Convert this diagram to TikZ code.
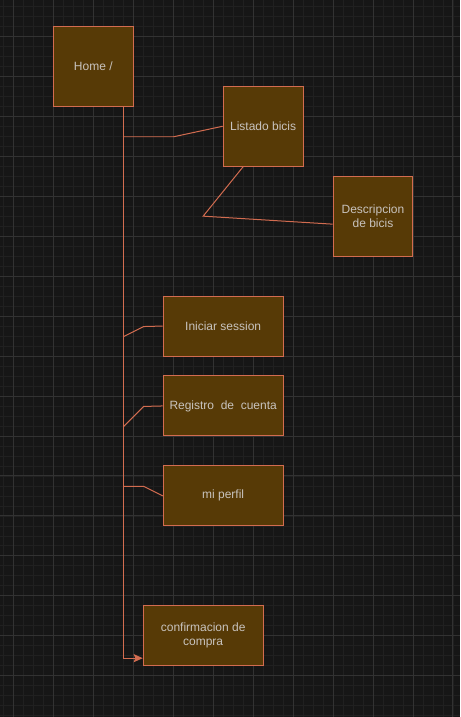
\documentclass[tikz,border=0pt]{standalone}
\usepackage{fontspec}
\setmainfont{Liberation Sans}
\usetikzlibrary{arrows.meta}
\usetikzlibrary{calc}
\definecolor{fondo}{RGB}{22,22,22}
\definecolor{rejilla}{RGB}{32,32,32}
\definecolor{rejillafuerte}{RGB}{50,50,50}
\definecolor{caja}{RGB}{87,58,6}
\definecolor{borde}{RGB}{210,108,80}
\definecolor{texto}{RGB}{200,195,190}

\begin{document}
\begin{tikzpicture}[x=1pt, y=-1pt,
    pagina/.style={draw=borde, fill=caja, line width=1pt, text=texto,
        font=\fontsize{12}{14}\selectfont, align=center, inner sep=0pt},
    cuadro/.style={pagina, minimum width=80pt, minimum height=80pt},
    ancho/.style={pagina, minimum width=120pt, minimum height=60pt},
    enlace/.style={draw=borde, line width=1pt}]

    % fondo y rejilla
    \fill[fondo] (0,0) rectangle (460,717);
    \foreach \x in {3,13,...,453}{
        \draw[rejilla, line width=0.6pt] (\x,0) -- (\x,717);
    }
    \foreach \y in {6,16,...,716}{
        \draw[rejilla, line width=0.6pt] (0,\y) -- (460,\y);
    }
    \foreach \x in {13,53,...,453}{
        \draw[rejillafuerte, line width=0.8pt] (\x,0) -- (\x,717);
    }
    \foreach \y in {36,76,...,676}{
        \draw[rejillafuerte, line width=0.8pt] (0,\y) -- (460,\y);
    }

    % paginas
    \node[cuadro] (home) at (93,66) {Home /};
    \node[cuadro] (listado) at (263,126) {Listado bicis};
    \node[cuadro] (descripcion) at (373,216) {Descripcion\\de bicis};
    \node[ancho] (iniciar) at (223,326) {Iniciar session};
    \node[ancho] (registro) at (223,406) {Registro~ de~ cuenta};
    \node[ancho] (perfil) at (223,496) {mi perfil};
    \node[ancho] (confirmacion) at (203,636) {confirmacion de\\compra};

    % tronco desde home
    \coordinate (t0) at ([xshift=-10pt]home.south east);
    \path (t0) ++(0,30) coordinate (b1)
          (t0) ++(0,230) coordinate (b2)
          (t0) ++(0,320) coordinate (b3)
          (t0) ++(0,380) coordinate (b4);

    \draw[enlace, -{Stealth[length=9pt, width=8pt, inset=1.5pt]}] (t0) |- ([yshift=8pt]confirmacion.south west);

    \draw[enlace] (b1) -- ++(50,0) -- (listado.west);
    \draw[enlace] ([xshift=-20pt]listado.south) -- (203,216) -- ([yshift=-8pt]descripcion.west);
    \draw[enlace] (b2) -- ++(20,-10) -- (iniciar.west);
    \draw[enlace] (b3) -- ++(20,-20) -- (registro.west);
    \draw[enlace] (b4) -- ++(20,0) -- (perfil.west);

\end{tikzpicture}
\end{document}
